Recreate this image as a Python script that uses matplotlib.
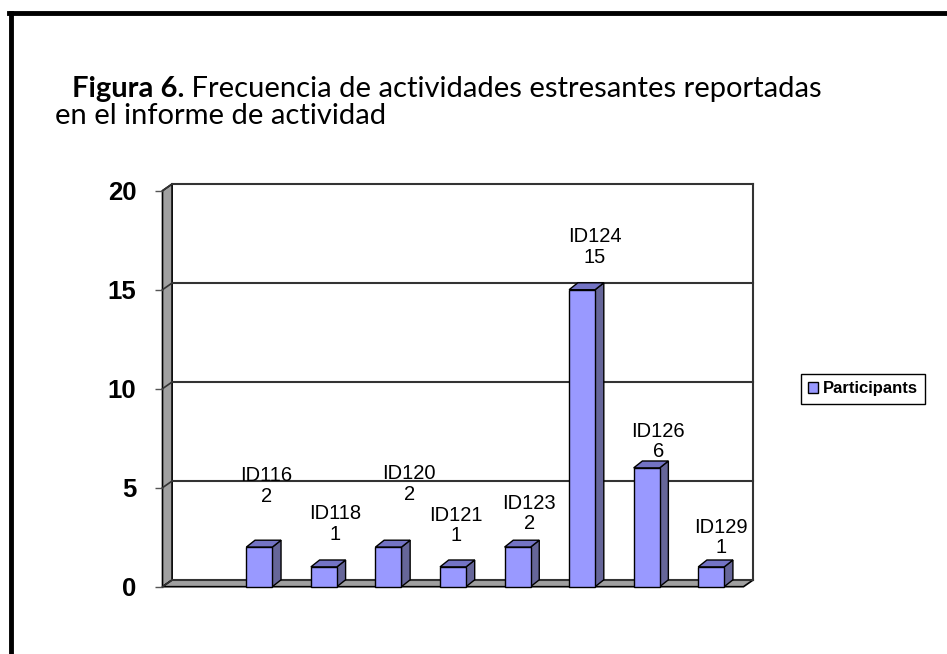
import numpy as np
import matplotlib
matplotlib.use("Agg")
import matplotlib.pyplot as plt
from matplotlib.patches import Polygon, Patch
from matplotlib.lines import Line2D

# data (first slot of the category axis is empty)
categories = ["", "ID116", "ID118", "ID120", "ID121", "ID123", "ID124", "ID126", "ID129"]
values = [None, 2, 1, 2, 1, 2, 15, 6, 1]
y_ticks = [0, 5, 10, 15, 20]

# where the data labels sit (they were moved by hand in the original)
label_x = [None, 1.11, 2.17, 3.32, 4.05, 5.18, 6.20, 7.18, 8.15]
label_y = [None, 4.29, 2.36, 4.40, 2.30, 2.91, 16.35, 6.55, 1.70]

W, H = 947, 654
DPI = 100

front_c = "#9999FF"
side_c = "#666699"
top_c = "#7373C4"
wall_c = "#A0A0A0"

fig = plt.figure(figsize=(W / DPI, H / DPI), dpi=DPI)

# plot area = front plane of the 3d box
x_left, x_right, y_zero, y_top = 162.5, 743.5, 586.7, 190.7
ax = fig.add_axes([x_left / W, 1 - y_zero / H, (x_right - x_left) / W, (y_zero - y_top) / H])
ax.set_xlim(-0.5, len(categories) - 0.5)
ax.set_ylim(0, 20)
for s in ax.spines.values():
    s.set_visible(False)
ax.patch.set_visible(False)

xpp = (len(categories)) / (x_right - x_left)
ypp = 20 / (y_zero - y_top)
DX, DY = 9.6 * xpp, 6.7 * ypp
x0, x1 = -0.5, len(categories) - 0.5

# left wall and floor
ax.add_patch(Polygon([(x0, 0), (x0 + DX, DY), (x0 + DX, 20 + DY), (x0, 20)],
                     closed=True, facecolor=wall_c, edgecolor="black", lw=1.2, zorder=1, clip_on=False))
ax.add_patch(Polygon([(x0, 0), (x1, 0), (x1 + DX, DY), (x0 + DX, DY)],
                     closed=True, facecolor=wall_c, edgecolor="black", lw=1.2, zorder=1, clip_on=False))

# grid lines on the back wall
for t in y_ticks:
    ax.plot([x0 + DX, x1 + DX], [t + DY, t + DY], color="#333333", lw=1.5, zorder=2, clip_on=False)
    ax.plot([x0, x0 + DX], [t, t + DY], color="#333333", lw=1.2, zorder=2, clip_on=False)
ax.plot([x1 + DX, x1 + DX], [DY, 20 + DY], color="#333333", lw=1.5, zorder=2, clip_on=False)

# 3d columns
bw = 26 * xpp
bdx, bdy = 8.7 * xpp, 6.9 * ypp
for i, v in enumerate(values):
    if v is None:
        continue
    l, r = i - bw / 2, i + bw / 2
    ax.add_patch(Polygon([(r, 0), (r + bdx, bdy), (r + bdx, v + bdy), (r, v)],
                         closed=True, facecolor=side_c, edgecolor="black", lw=1, zorder=4, clip_on=False))
    ax.add_patch(Polygon([(l, v), (r, v), (r + bdx, v + bdy), (l + bdx, v + bdy)],
                         closed=True, facecolor=top_c, edgecolor="black", lw=1, zorder=4, clip_on=False))
    ax.add_patch(Polygon([(l, 0), (r, 0), (r, v), (l, v)],
                         closed=True, facecolor=front_c, edgecolor="black", lw=1, zorder=5, clip_on=False))
    ax.text(label_x[i], label_y[i], f"{categories[i]}\n{v}", ha="center", va="baseline",
            multialignment="center", fontsize=14.5, family="Liberation Sans", linespacing=1.1, zorder=6)

ax.set_xticks([])
ax.set_yticks(y_ticks)
ax.set_yticklabels([str(t) for t in y_ticks], fontsize=18.5, fontweight="bold", family="Liberation Sans")
ax.tick_params(axis="y", length=5.8, width=1, color="#555555", pad=13)

# legend
fig.legend(handles=[Patch(facecolor=front_c, edgecolor="black", lw=1, label="Participants")],
           loc="center", bbox_to_anchor=(863 / W, 1 - 389 / H),
           prop={"family": "Liberation Sans", "weight": "bold", "size": 12},
           frameon=True, fancybox=False, edgecolor="black", framealpha=1,
           handlelength=0.6, handleheight=0.6, handletextpad=0.25, borderpad=0.45)

# title (two lines, bold lead-in)
t1 = fig.text(72 / W, 1 - 97 / H, "Figura 6.", fontsize=21, fontweight="bold", family="Lato",
              ha="left", va="baseline")
fig.add_artist(plt.Annotation(" Frecuencia de actividades estresantes reportadas", xy=(1, 0),
                              xycoords=t1, fontsize=21, family="Lato", ha="left", va="bottom"))
fig.text(55 / W, 1 - 124 / H, "en el informe de actividad", fontsize=21, family="Lato",
         ha="left", va="baseline")

# outer frame (left and top edges)
fig.add_artist(Line2D([10.5 / W, 10.5 / W], [0, 1 - 13 / H], color="black", lw=3.5))
fig.add_artist(Line2D([9 / W, 1], [1 - 13 / H, 1 - 13 / H], color="black", lw=3.5))

fig.savefig("out.png", dpi=DPI)
